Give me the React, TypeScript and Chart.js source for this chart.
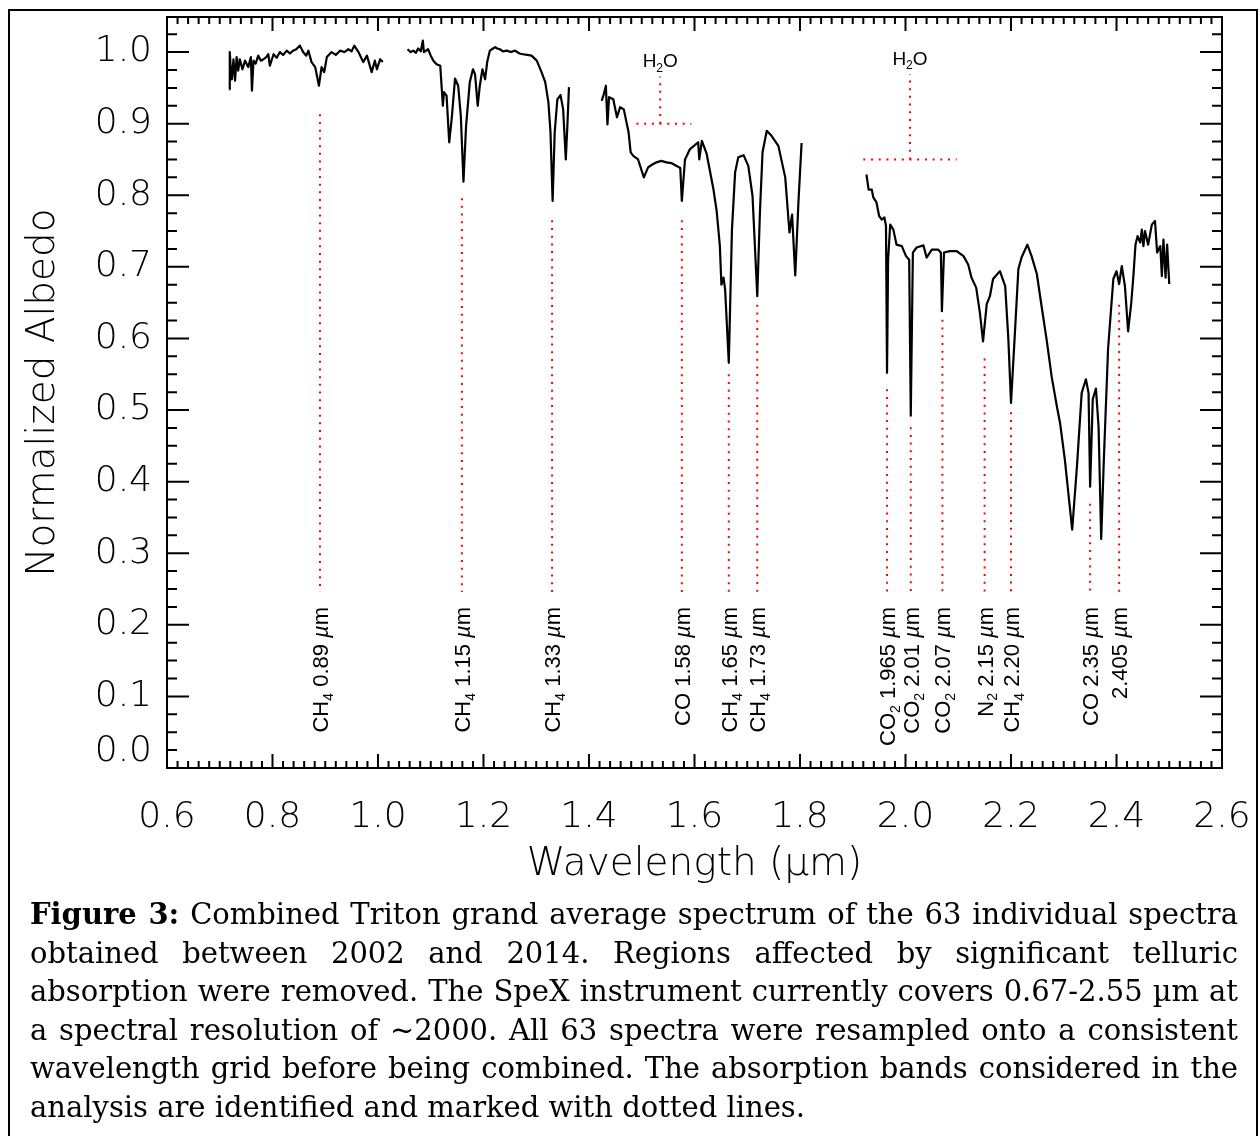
import React, { useEffect, useRef } from 'react';
import { Chart, registerables } from 'chart.js';

Chart.register(...registerables);

// ---------------- data ----------------
const X_TICKS = [0.6, 0.8, 1.0, 1.2, 1.4, 1.6, 1.8, 2.0, 2.2, 2.4, 2.6];
const Y_TICKS = [0.0, 0.1, 0.2, 0.3, 0.4, 0.5, 0.6, 0.7, 0.8, 0.9, 1.0];
const X_RANGE = [0.6, 2.6];
const Y_RANGE = [0.0, 1.049];

// spectrum segments: [wavelength (µm), normalized albedo]
const SEG_A: [number, number][] = [
  [0.718, 0.948], [0.719, 1.0], [0.721, 0.975], [0.723, 0.962], [0.726, 0.99], [0.729, 0.96],
  [0.732, 0.993], [0.735, 0.974], [0.738, 0.99], [0.743, 0.976], [0.748, 0.988], [0.754, 0.979],
  [0.759, 0.993], [0.761, 0.946], [0.764, 0.988], [0.768, 0.984], [0.773, 0.995], [0.778, 0.988],
  [0.783, 0.99], [0.788, 0.993], [0.792, 0.997], [0.795, 0.981], [0.802, 0.997], [0.808, 0.992],
  [0.814, 1.0], [0.82, 0.996], [0.827, 1.002], [0.833, 0.998], [0.839, 1.002], [0.845, 1.004],
  [0.852, 1.009], [0.858, 1.0], [0.864, 0.995], [0.868, 1.002], [0.874, 0.986], [0.881, 0.979],
  [0.888, 0.953], [0.893, 0.979], [0.898, 0.972], [0.903, 0.993], [0.912, 1.0], [0.92, 0.996],
  [0.928, 1.002], [0.936, 1.0], [0.944, 1.004], [0.95, 1.001], [0.955, 1.009], [0.963, 1.0],
  [0.972, 0.986], [0.979, 0.995], [0.988, 0.972], [0.994, 0.988], [0.998, 0.976], [1.004, 0.99],
  [1.009, 0.986],
];
const SEG_B: [number, number][] = [
  [1.056, 1.004], [1.062, 1.0], [1.067, 1.002], [1.072, 0.999], [1.076, 1.005], [1.081, 1.001],
  [1.085, 1.016], [1.087, 1.0], [1.095, 1.004], [1.1, 0.995], [1.105, 0.988], [1.111, 0.983],
  [1.118, 0.981], [1.123, 0.925], [1.125, 0.944], [1.13, 0.939], [1.135, 0.874], [1.14, 0.909],
  [1.146, 0.963], [1.152, 0.953], [1.157, 0.911], [1.162, 0.819], [1.167, 0.897], [1.174, 0.958],
  [1.18, 0.976], [1.184, 0.969], [1.189, 0.925], [1.193, 0.953], [1.198, 0.976], [1.203, 0.962],
  [1.207, 0.986], [1.212, 1.002], [1.216, 1.004], [1.222, 1.007], [1.226, 1.005], [1.231, 1.004],
  [1.237, 1.001], [1.244, 1.002], [1.252, 1.0], [1.26, 1.002], [1.268, 0.998], [1.275, 0.997],
  [1.283, 0.996], [1.291, 0.995], [1.301, 0.988], [1.31, 0.972], [1.317, 0.958], [1.323, 0.93],
  [1.327, 0.888], [1.331, 0.792], [1.335, 0.888], [1.34, 0.934], [1.346, 0.94], [1.351, 0.92],
  [1.356, 0.85], [1.359, 0.897], [1.362, 0.951],
];
const SEG_C: [number, number][] = [
  [1.424, 0.932], [1.428, 0.941], [1.432, 0.953], [1.435, 0.899], [1.438, 0.937], [1.446, 0.934],
  [1.453, 0.909], [1.459, 0.923], [1.466, 0.92], [1.475, 0.888], [1.479, 0.86], [1.484, 0.855],
  [1.493, 0.85], [1.504, 0.825], [1.512, 0.839], [1.52, 0.843], [1.528, 0.846], [1.537, 0.848],
  [1.547, 0.846], [1.556, 0.845], [1.566, 0.841], [1.573, 0.838], [1.576, 0.792], [1.582, 0.85],
  [1.591, 0.864], [1.607, 0.874], [1.609, 0.85], [1.614, 0.876], [1.623, 0.858], [1.636, 0.808],
  [1.642, 0.778], [1.648, 0.73], [1.651, 0.675], [1.655, 0.685], [1.658, 0.669], [1.665, 0.566],
  [1.671, 0.752], [1.677, 0.832], [1.683, 0.853], [1.693, 0.856], [1.702, 0.841], [1.71, 0.799],
  [1.719, 0.659], [1.724, 0.776], [1.729, 0.86], [1.737, 0.89], [1.746, 0.883], [1.759, 0.869],
  [1.772, 0.825], [1.78, 0.748], [1.785, 0.773], [1.791, 0.688], [1.797, 0.79], [1.803, 0.873],
];
const SEG_D: [number, number][] = [
  [1.926, 0.829], [1.93, 0.808], [1.936, 0.808], [1.939, 0.797], [1.945, 0.79], [1.95, 0.771],
  [1.955, 0.766], [1.96, 0.769], [1.963, 0.757], [1.965, 0.552], [1.967, 0.71], [1.971, 0.759],
  [1.977, 0.752], [1.983, 0.731], [1.993, 0.729], [2.001, 0.715], [2.007, 0.71], [2.01, 0.492],
  [2.014, 0.72], [2.021, 0.727], [2.034, 0.73], [2.04, 0.713], [2.05, 0.724], [2.062, 0.724],
  [2.067, 0.72], [2.069, 0.638], [2.073, 0.72], [2.084, 0.722], [2.097, 0.722], [2.11, 0.715],
  [2.119, 0.703], [2.125, 0.685], [2.134, 0.671], [2.141, 0.636], [2.147, 0.596], [2.154, 0.648],
  [2.16, 0.659], [2.166, 0.683], [2.179, 0.694], [2.189, 0.673], [2.195, 0.599], [2.2, 0.51],
  [2.206, 0.589], [2.214, 0.697], [2.22, 0.713], [2.231, 0.731], [2.239, 0.715], [2.249, 0.69],
  [2.258, 0.645], [2.268, 0.596], [2.277, 0.547], [2.287, 0.505], [2.293, 0.482], [2.302, 0.431],
  [2.316, 0.333], [2.325, 0.421], [2.334, 0.524], [2.342, 0.543], [2.347, 0.524], [2.35, 0.393],
  [2.355, 0.515], [2.361, 0.53], [2.366, 0.477], [2.371, 0.32], [2.376, 0.431], [2.384, 0.585],
  [2.394, 0.683], [2.4, 0.694], [2.405, 0.676], [2.41, 0.701], [2.416, 0.673], [2.422, 0.61],
  [2.428, 0.65], [2.432, 0.687], [2.436, 0.731], [2.44, 0.743], [2.445, 0.734], [2.448, 0.752],
  [2.451, 0.729], [2.454, 0.75], [2.46, 0.731], [2.467, 0.759], [2.473, 0.764], [2.477, 0.72],
  [2.483, 0.729], [2.486, 0.687], [2.489, 0.738], [2.493, 0.685], [2.496, 0.731], [2.5, 0.676],
];

// absorption band markers
const BAND_X = [0.89, 1.159, 1.33, 1.576, 1.665, 1.719, 1.965, 2.01, 2.07, 2.15, 2.2, 2.35, 2.405];
const BAND_TOP = [0.913, 0.796, 0.765, 0.765, 0.55, 0.647, 0.529, 0.476, 0.626, 0.572, 0.497, 0.369, 0.647];
const BAND_BOTTOM = 0.246;
const BAND_LABELS = [
  'CH₄ 0.89 µm', 'CH₄ 1.15 µm', 'CH₄ 1.33 µm', 'CO 1.58 µm', 'CH₄ 1.65 µm', 'CH₄ 1.73 µm',
  'CO₂ 1.965 µm', 'CO₂ 2.01 µm', 'CO₂ 2.07 µm', 'N₂ 2.15 µm', 'CH₄ 2.20 µm', 'CO 2.35 µm', '2.405 µm',
];
const LABEL_END = 0.225; // albedo level where rotated labels end

// telluric H2O markers
const H2O_X = [1.535, 2.0085];
const H2O_LEFT = [1.49, 1.92];
const H2O_RIGHT = [1.594, 2.097];
const H2O_LEVEL = [0.9, 0.85];
const H2O_TOP = [0.966, 0.969];
const H2O_LABEL = 'H₂O';

const CAPTION_LINES = [
  'Combined Triton grand average spectrum of the 63 individual spectra',
  'obtained between 2002 and 2014. Regions affected by significant telluric',
  'absorption were removed. The SpeX instrument currently covers 0.67-2.55 µm at',
  'a spectral resolution of ~2000. All 63 spectra were resampled onto a consistent',
  'wavelength grid before being combined. The absorption bands considered in the',
  'analysis are identified and marked with dotted lines.',
];

// ---------------- helpers ----------------
const toPts = (seg: [number, number][]) => seg.map(([x, y]) => ({ x, y }));

const SUB: Record<string, string> = { '₀': '0', '₁': '1', '₂': '2', '₃': '3', '₄': '4' };
type Run = { s: string; sub: boolean; ital: boolean };
function runsOf(text: string): Run[] {
  const runs: Run[] = [];
  for (const ch of Array.from(text)) {
    const sub = ch in SUB;
    const ital = ch === 'µ';
    const s = sub ? SUB[ch] : ch;
    const last = runs[runs.length - 1];
    if (last && last.sub === sub && last.ital === ital) last.s += s;
    else runs.push({ s, sub, ital });
  }
  return runs;
}
const LABEL_FAMILY = '"Liberation Sans", Arial, sans-serif';
function runFont(r: Run, size: number) {
  return `${r.ital ? 'italic ' : ''}${r.sub ? Math.round(size * 0.62) : size}px ${LABEL_FAMILY}`;
}
function measureRuns(ctx: CanvasRenderingContext2D, runs: Run[], size: number) {
  let w = 0;
  for (const r of runs) {
    ctx.font = runFont(r, size);
    w += ctx.measureText(r.s).width;
  }
  return w;
}
function drawRuns(ctx: CanvasRenderingContext2D, runs: Run[], size: number, u: number, v: number) {
  ctx.textBaseline = 'alphabetic';
  ctx.textAlign = 'left';
  for (const r of runs) {
    ctx.font = runFont(r, size);
    ctx.fillText(r.s, u, r.sub ? v + size * 0.22 : v);
    u += ctx.measureText(r.s).width;
  }
}

const decorPlugin = {
  id: 'decor',
  afterDraw(chart: any) {
    const { ctx, chartArea: a, scales } = chart;
    const xs = scales.x;
    const ys = scales.y;
    ctx.save();
    ctx.strokeStyle = '#000';
    ctx.fillStyle = '#000';
    ctx.lineWidth = 2;
    ctx.lineCap = 'butt';
    ctx.strokeRect(a.left, a.top, a.right - a.left, a.bottom - a.top);

    // x ticks (10 minor per major)
    const xMajor = X_TICKS[1] - X_TICKS[0];
    const xMinor = xMajor / 10;
    const nx = Math.round((X_RANGE[1] - X_RANGE[0]) / xMinor);
    ctx.beginPath();
    for (let k = 0; k <= nx; k++) {
      const v = X_RANGE[0] + k * xMinor;
      const px = xs.getPixelForValue(v);
      const len = k % 10 === 0 ? 14 : 7;
      ctx.moveTo(px, a.bottom);
      ctx.lineTo(px, a.bottom - len);
      ctx.moveTo(px, a.top);
      ctx.lineTo(px, a.top + len);
    }
    // y ticks (4 minor per major)
    const yMajor = Y_TICKS[1] - Y_TICKS[0];
    const yMinor = yMajor / 4;
    const ny = Math.floor((Y_RANGE[1] - Y_RANGE[0]) / yMinor + 1e-6);
    for (let k = 0; k <= ny; k++) {
      const v = Y_RANGE[0] + k * yMinor;
      const py = ys.getPixelForValue(v);
      const len = k % 4 === 0 ? 22 : 10;
      ctx.moveTo(a.left, py);
      ctx.lineTo(a.left + len, py);
      ctx.moveTo(a.right, py);
      ctx.lineTo(a.right - len, py);
    }
    ctx.stroke();

    // rotated band labels
    const size = 22;
    BAND_LABELS.forEach((lab, i) => {
      const runs = runsOf(lab);
      const w = measureRuns(ctx, runs, size);
      const px = xs.getPixelForValue(BAND_X[i]);
      const py = ys.getPixelForValue(LABEL_END);
      ctx.save();
      ctx.translate(px, py);
      ctx.rotate(-Math.PI / 2);
      drawRuns(ctx, runs, size, -w, size * 0.36);
      ctx.restore();
    });

    // H2O labels
    const hs = 19;
    H2O_X.forEach((hx, i) => {
      const runs = runsOf(H2O_LABEL);
      const w = measureRuns(ctx, runs, hs);
      const px = xs.getPixelForValue(hx);
      const py = ys.getPixelForValue(H2O_TOP[i]) - 9;
      drawRuns(ctx, runs, hs, px - w / 2, py);
    });
    ctx.restore();
  },
};

const AXIS_FAMILY = '"DejaVu Sans", sans-serif';

export default function App() {
  const ref = useRef<HTMLCanvasElement | null>(null);
  useEffect(() => {
    if (!ref.current) return;
    const bandPts: any[] = [];
    BAND_X.forEach((x, i) => {
      bandPts.push({ x, y: BAND_TOP[i] }, { x, y: BAND_BOTTOM }, { x, y: null });
    });
    const h2oPts: any[] = [];
    H2O_X.forEach((x, i) => {
      h2oPts.push({ x: H2O_LEFT[i], y: H2O_LEVEL[i] }, { x: H2O_RIGHT[i], y: H2O_LEVEL[i] }, { x, y: null });
      h2oPts.push({ x, y: H2O_LEVEL[i] }, { x, y: H2O_TOP[i] }, { x, y: null });
    });
    const specStyle = {
      showLine: true,
      borderColor: '#000',
      borderWidth: 2.2,
      pointRadius: 0,
      borderJoinStyle: 'round' as const,
      tension: 0,
    };
    const dotStyle = {
      showLine: true,
      borderColor: '#ff0000',
      borderWidth: 2,
      borderDash: [2, 5.7],
      pointRadius: 0,
      spanGaps: false,
    };
    const tickFont = { family: AXIS_FAMILY, size: 36, weight: '200' as any };
    const chart = new Chart(ref.current, {
      type: 'scatter',
      data: {
        datasets: [
          { data: toPts(SEG_A), ...specStyle },
          { data: toPts(SEG_B), ...specStyle },
          { data: toPts(SEG_C), ...specStyle },
          { data: toPts(SEG_D), ...specStyle },
          { data: bandPts, ...dotStyle },
          { data: h2oPts, ...dotStyle },
        ] as any,
      },
      options: {
        animation: false,
        responsive: false,
        devicePixelRatio: 1,
        layout: { padding: { left: 10, top: 17, right: 38, bottom: 0 } },
        plugins: { legend: { display: false }, tooltip: { enabled: false } },
        events: [],
        scales: {
          x: {
            type: 'linear',
            min: X_RANGE[0],
            max: X_RANGE[1],
            grid: { display: false, drawTicks: false },
            border: { display: false },
            afterBuildTicks: (s: any) => {
              s.ticks = X_TICKS.map((value) => ({ value }));
            },
            afterFit: (s: any) => {
              s.height = 132;
              s.paddingLeft = 0;
              s.paddingRight = 0;
            },
            ticks: {
              autoSkip: false,
              maxRotation: 0,
              minRotation: 0,
              padding: 28,
              color: '#000',
              font: tickFont,
              callback: (v: any) => Number(v).toFixed(1),
            },
            title: {
              display: true,
              text: 'Wavelength (µm)',
              color: '#000',
              font: { family: AXIS_FAMILY, size: 39, weight: '200' as any, lineHeight: 1.2 },
              padding: { top: 0, bottom: 12 },
            },
          },
          y: {
            type: 'linear',
            min: Y_RANGE[0],
            max: Y_RANGE[1],
            grid: { display: false, drawTicks: false },
            border: { display: false },
            afterBuildTicks: (s: any) => {
              s.ticks = Y_TICKS.map((value) => ({ value }));
            },
            afterFit: (s: any) => {
              s.width = 157;
              s.paddingTop = 0;
              s.paddingBottom = 0;
            },
            ticks: {
              padding: 15,
              color: '#000',
              font: (c: any) =>
                c.tick && c.tick.value === 0
                  ? { ...tickFont, lineHeight: 0.9 }
                  : { ...tickFont, lineHeight: 1.2 },
              callback: (v: any) => (Number(v) === 0 ? ['0.0', ''] : Number(v).toFixed(1)),
            },
            title: {
              display: true,
              text: 'Normalized Albedo',
              color: '#000',
              font: { family: AXIS_FAMILY, size: 39, weight: '200' as any, lineHeight: 1.2 },
              padding: { top: 10, bottom: 0 },
            },
          },
        },
      } as any,
      plugins: [decorPlugin],
    });
    return () => chart.destroy();
  }, []);

  const lineStyle: React.CSSProperties = {
    textAlign: 'justify',
    textAlignLast: 'justify' as any,
    whiteSpace: 'nowrap',
    height: 38.5,
  };
  return (
    <div
      style={{
        position: 'fixed',
        left: 0,
        top: 0,
        width: 1260,
        height: 1136,
        overflow: 'hidden',
        background: '#fff',
      }}
    >
      <div
        style={{
          position: 'absolute',
          left: 8,
          top: 9,
          width: 1250,
          height: 1160,
          border: '2px solid #000',
          boxSizing: 'border-box',
        }}
      />
      <canvas ref={ref} width={1260} height={900} style={{ position: 'absolute', left: 0, top: 0 }} />
      <div
        style={{
          position: 'absolute',
          left: 30,
          top: 895,
          width: 1208,
          fontFamily: '"DejaVu Serif", serif',
          fontSize: 29,
          lineHeight: '38.5px',
          color: '#000',
        }}
      >
        {CAPTION_LINES.map((t, i) => (
          <div
            key={i}
            style={i === CAPTION_LINES.length - 1 ? { whiteSpace: 'nowrap', height: 38.5 } : lineStyle}
          >
            {i === 0 ? (
              <>
                <b>Figure 3:</b> {t}
              </>
            ) : (
              t
            )}
          </div>
        ))}
      </div>
    </div>
  );
}
